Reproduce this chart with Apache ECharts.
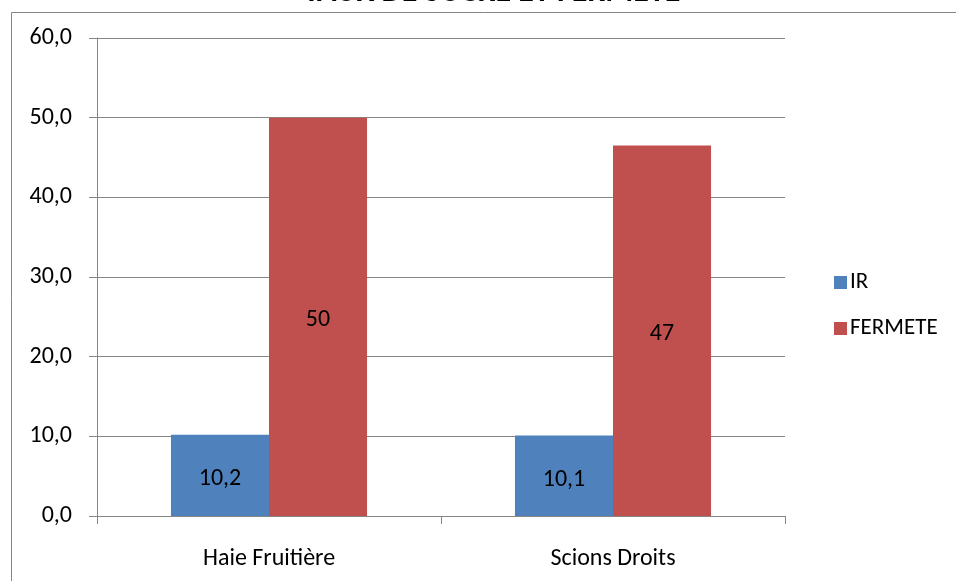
<!DOCTYPE html>
<html><head><meta charset="utf-8">
<script src="https://cdn.jsdelivr.net/npm/echarts@6/dist/echarts.min.js"></script>
<style>html,body{margin:0;padding:0;background:#fff}#c{width:956px;height:581px}</style>
</head><body><div id="c"></div>
<script>
var categories = ["Haie Fruitière", "Scions Droits"];
var irValues = [10.2, 10.1];
var fermeteValues = [50, 46.5];
var yTicks = [0, 10, 20, 30, 40, 50, 60];
var FONT = "Carlito, Lato, 'Open Sans', sans-serif";
var chart = echarts.init(document.getElementById('c'));
chart.setOption({
  animation: false,
  graphic: [
    {type: 'rect', shape: {x: 11.5, y: 12.5, width: 960, height: 600}, style: {fill: 'none', stroke: '#868686', lineWidth: 1}},
    {type: 'text', x: 492, y: -23, style: {text: 'TAUX DE SUCRE ET FERMETE', font: 'bold 32px ' + FONT, fill: '#000', textAlign: 'center'}}
  ],
  legend: {
    orient: 'vertical', left: 829, top: 266, itemWidth: 13, itemHeight: 13, itemGap: 23,
    icon: 'rect',
    textStyle: {fontFamily: FONT, fontSize: 23, color: '#000', padding: [0, 0, 0, -2]},
    data: ['IR', 'FERMETE']
  },
  grid: {left: 97, right: 171, top: 38, bottom: 65, containLabel: false},
  xAxis: {
    type: 'category', data: categories,
    axisLine: {lineStyle: {color: '#868686'}},
    axisTick: {show: true, length: 8, lineStyle: {color: '#868686'}},
    axisLabel: {fontFamily: FONT, fontSize: 24, color: '#000', margin: 31}
  },
  yAxis: {
    type: 'value', min: 0, max: 60, interval: 10,
    axisLine: {show: true, lineStyle: {color: '#868686'}},
    axisTick: {show: true, length: 8, lineStyle: {color: '#868686'}},
    splitLine: {lineStyle: {color: '#868686'}},
    axisLabel: {fontFamily: FONT, fontSize: 24, color: '#000', margin: 25, padding: [7, 0, 0, 0],
      formatter: function (v) { return v.toFixed(1).replace('.', ','); }}
  },
  series: [
    {name: 'IR', type: 'bar', data: irValues, barGap: 0, barCategoryGap: '43%',
      itemStyle: {color: '#4F81BD'},
      label: {show: true, position: 'inside', offset: [0, 4], color: '#000', fontFamily: FONT, fontSize: 24,
        formatter: function (p) { return p.value.toFixed(1).replace('.', ','); }}},
    {name: 'FERMETE', type: 'bar', data: fermeteValues, barGap: 0, barCategoryGap: '43%',
      itemStyle: {color: '#C0504D'},
      label: {show: true, position: 'inside', offset: [0, 3], color: '#000', fontFamily: FONT, fontSize: 24,
        formatter: function (p) { return String(Math.round(p.value)); }}}
  ]
});
</script></body></html>
